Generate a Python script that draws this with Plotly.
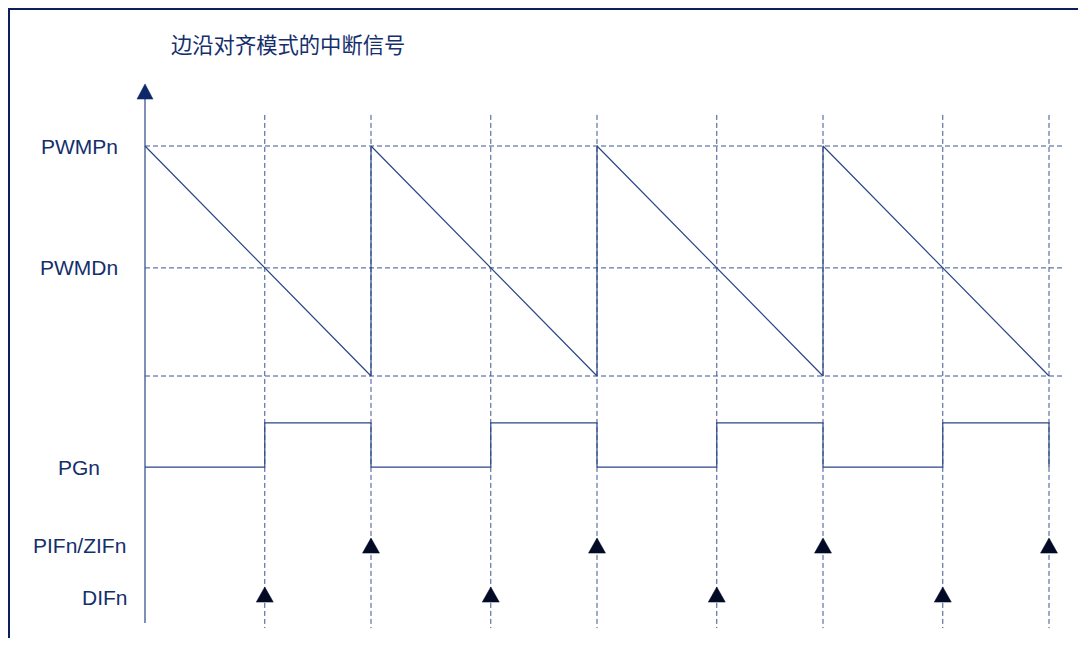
import plotly.graph_objects as go

# ---- data ----
title_text = "边沿对齐模式的中断信号"
level_labels = ["PWMPn", "PWMDn", "PGn", "PIFn/ZIFn", "DIFn"]
pwmp = 100.0          # counter top value
pwmd = 47.0           # duty compare value
pg_low = -39.6        # PG low level (display level)
pg_high = -20.4       # PG high level
pif_level = -77.0     # PIF/ZIF event row (marker base)
dif_level = -98.3     # DIF event row (marker base)
period_starts = [0, 1, 2, 3]
period_ends = [1, 2, 3, 4]

# derived times
dif_times = [s + (pwmp - pwmd) / pwmp for s in period_starts]
pif_times = period_ends

LINE = "#2B4786"
DASH = "#3A5590"
TEXT = "#142F6C"
MARK = "#030A26"

# marker geometry (in axis units)
TRI_HW = 0.0376   # half width
TRI_H = 6.6       # height

fig = go.Figure()

# dashed horizontal references
hx, hy = [], []
for lv in [pwmp, pwmd, 0.0]:
    hx += [0, 4.07, None]
    hy += [lv, lv, None]
fig.add_trace(go.Scatter(x=hx, y=hy, mode="lines",
                         line=dict(color=DASH, width=1, dash="5px,3px"),
                         hoverinfo="skip", showlegend=False))

# dashed vertical references
vx, vy = [], []
for t in sorted(dif_times + pif_times):
    vx += [t, t, None]
    vy += [113.5, -109.6, None]
fig.add_trace(go.Scatter(x=vx, y=vy, mode="lines",
                         line=dict(color=DASH, width=1, dash="5px,3px"),
                         hoverinfo="skip", showlegend=False))

# sawtooth counter
sx, sy = [], []
for i, s in enumerate(period_starts):
    sx += [s, period_ends[i]]
    sy += [pwmp, 0.0]
fig.add_trace(go.Scatter(x=sx, y=sy, mode="lines",
                         line=dict(color=LINE, width=1.2),
                         hoverinfo="skip", showlegend=False))

# PG waveform
px, py = [0], [pg_low]
for i, s in enumerate(period_starts):
    d = dif_times[i]
    e = period_ends[i]
    px += [d, d, e, e]
    py += [pg_low, pg_high, pg_high, pg_low]
fig.add_trace(go.Scatter(x=px, y=py, mode="lines",
                         line=dict(color=LINE, width=1.2),
                         hoverinfo="skip", showlegend=False))

# y axis with arrow
axis_top = 120.4
fig.add_trace(go.Scatter(x=[0, 0], y=[-107.4, axis_top], mode="lines",
                         line=dict(color=LINE, width=1.2),
                         hoverinfo="skip", showlegend=False))
fig.add_trace(go.Scatter(x=[-0.0354, 0.0354, 0, -0.0354],
                         y=[axis_top, axis_top, axis_top + 6.6, axis_top],
                         mode="lines", fill="toself", fillcolor="#0D2768",
                         line=dict(color="#0D2768", width=0.5),
                         hoverinfo="skip", showlegend=False))


def triangles(times, base):
    tx, ty = [], []
    for t in times:
        tx += [t - TRI_HW, t + TRI_HW, t, t - TRI_HW, None]
        ty += [base, base, base + TRI_H, base, None]
    return tx, ty


for times, base in [(pif_times, pif_level), (dif_times, dif_level)]:
    tx, ty = triangles(times, base)
    fig.add_trace(go.Scatter(x=tx, y=ty, mode="lines", fill="toself",
                             fillcolor=MARK, line=dict(color=MARK, width=0.5),
                             hoverinfo="skip", showlegend=False))

# labels
label_y = [pwmp, pwmd, pg_low, -73.5, -96.5]
label_x = [-0.292, -0.290, -0.292, -0.292, -0.177]
for txt, lx, ly in zip(level_labels, label_x, label_y):
    fig.add_annotation(x=lx, y=ly, text=txt, showarrow=False,
                       xanchor="center", yanchor="middle",
                       font=dict(family="Liberation Sans, Arial", size=21, color=TEXT))

fig.add_annotation(x=0.108, y=144.5, text=title_text, showarrow=False,
                   xanchor="left", yanchor="middle",
                   font=dict(family="Noto Sans CJK SC", size=21.3, color=TEXT))

# frame: top and left edges only
fig.add_shape(type="line", xref="paper", yref="paper",
              x0=0, x1=1, y0=1 - 1 / 630, y1=1 - 1 / 630,
              line=dict(color="#0A1F5C", width=2))
fig.add_shape(type="line", xref="paper", yref="paper",
              x0=1 / 1070, x1=1 / 1070, y0=0, y1=1,
              line=dict(color="#0A1F5C", width=2))

fig.update_layout(
    width=1070, height=630, autosize=False,
    margin=dict(l=0, r=0, t=0, b=0),
    paper_bgcolor="white", plot_bgcolor="white",
    xaxis=dict(range=[-0.6062, 4.1283], visible=False, fixedrange=True),
    yaxis=dict(range=[-113.91, 160.0], visible=False, fixedrange=True),
    showlegend=False,
)

fig.write_html("out.html")
